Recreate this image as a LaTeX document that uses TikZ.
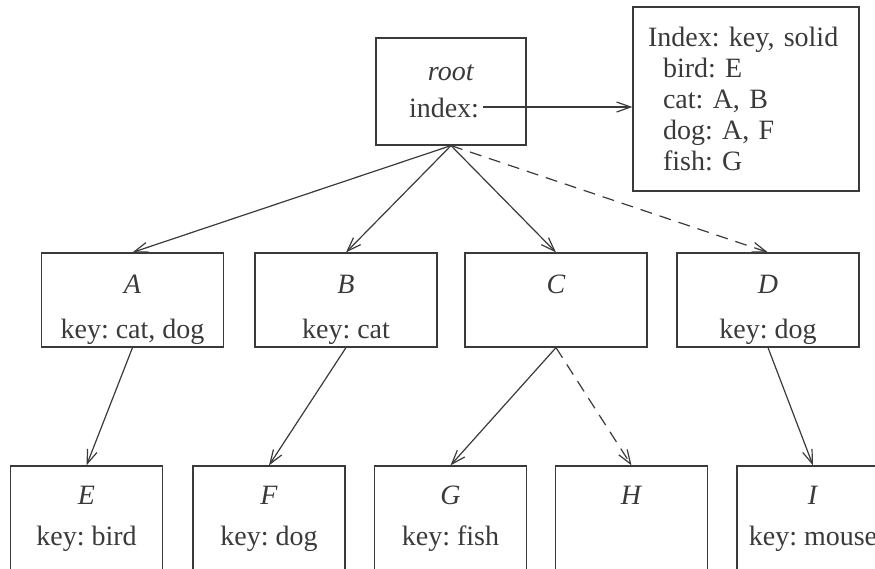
\documentclass[tikz,border=0pt]{standalone}
\usepackage{fontspec}
\setmainfont{Liberation Serif}
\frenchspacing
\usetikzlibrary{arrows.meta}
\definecolor{encre}{HTML}{3A3A3A}
\newcommand{\contenu}[2]{\rule{0pt}{19.3pt}\textit{#1}\\[6.9pt]#2}
\tikzset{
  boite/.style={draw=encre, line width=0.6pt, text=encre, align=center,
    inner sep=0pt, font=\fontsize{14}{15.6}\selectfont\frenchspacing},
  niveauA/.style={boite, minimum width=91pt, minimum height=47pt},
  niveauB/.style={boite, minimum width=76pt, minimum height=53pt},
  fleche/.style={draw=encre, line width=0.6pt, -{Straight Barb[length=7pt,width=5pt]}},
  pointille/.style={fleche, dash pattern=on 6pt off 4pt}
}

\begin{document}
\begin{tikzpicture}[x=0.5pt, y=-0.5pt]
  \clip (0,0) rectangle (875,569);

  % Racine et table d'index
  \node[boite, minimum width=75pt, minimum height=53.5pt] (root) at (451,91.5)
    {\textit{root}\\[2.9pt]index:\hspace*{7pt}};
  \node[boite, align=left, text width=98pt, inner xsep=7.5pt, minimum height=92pt] (idx) at (746,99)
    {Index: key, solid\\
     \hspace*{7.5pt}bird: E\\
     \hspace*{7.5pt}cat: A, B\\
     \hspace*{7.5pt}dog: A, F\\
     \hspace*{7.5pt}fish: G};
  \coordinate (ptr) at (483,107);
  \draw[fleche] (ptr) -- (ptr -| idx.west);

  % Premier niveau
  \node[niveauA] (a) at (132.5,300) {\contenu{A}{key: cat, dog}};
  \node[niveauA] (b) at (346,300) {\contenu{B}{key: cat}};
  \node[niveauA] (c) at (556,300) {\contenu{C}{\phantom{key: dog}}};
  \node[niveauA] (d) at (768,300) {\contenu{D}{key: dog}};

  % Second niveau
  \node[niveauB] (e) at (86.5,519) {\textit{E}\\[5pt]key: bird};
  \node[niveauB] (f) at (269,519) {\textit{F}\\[5pt]key: dog};
  \node[niveauB] (g) at (450.5,519) {\textit{G}\\[5pt]key: fish};
  \node[niveauB] (h) at (631.5,519) {\textit{H}\\[5pt]\phantom{key: fish}};
  \node[niveauB] (i) at (813,519) {\textit{I}\\[5pt]key: mouse};

  % Liens
  \foreach \n in {a,b,c} {
    \draw[fleche] (root.south) -- (\n.north);
  }
  \draw[pointille] (root.south) -- (d.north);
  \draw[fleche] (a.south) -- (e.north);
  \draw[fleche] (b.south) -- (f.north);
  \draw[fleche] (c.south) -- (g.north);
  \draw[pointille] (c.south) -- (h.north);
  \draw[fleche] (d.south) -- (i.north);
\end{tikzpicture}
\end{document}
